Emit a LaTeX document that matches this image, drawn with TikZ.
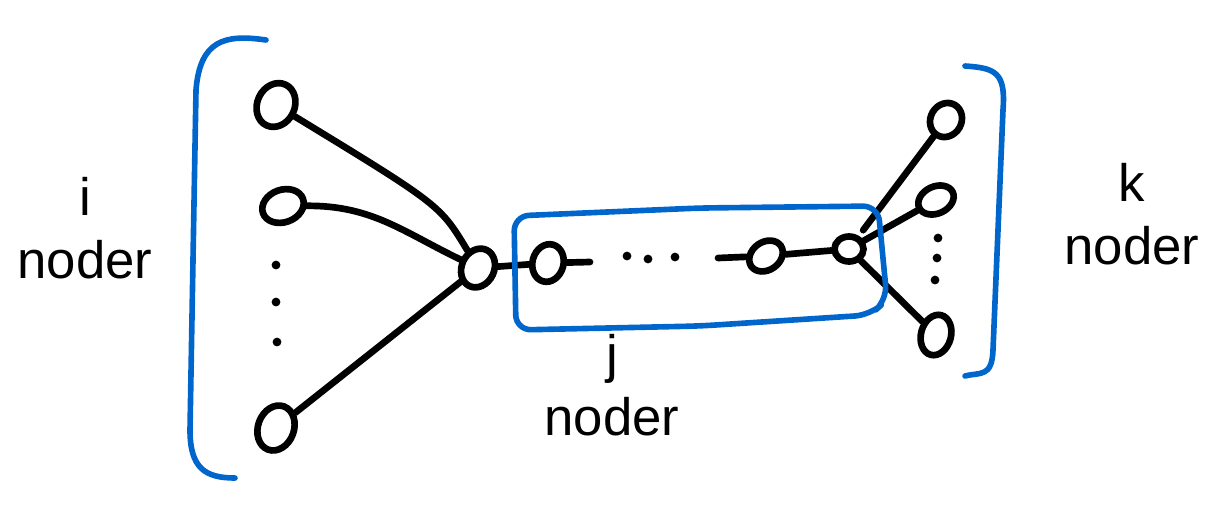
\documentclass[tikz,border=0pt]{standalone}
\usepackage{fontspec}
\setmainfont{Liberation Sans}
\usetikzlibrary{shapes.geometric}
\definecolor{penblue}{RGB}{0,102,204}
\newlength{\penwidth}
\setlength{\penwidth}{3.8pt}
\tikzset{
  vert/.style={draw, ellipse, inner sep=0pt, line width=\penwidth},
  dot/.style={fill, circle, inner sep=0pt, minimum size=5pt},
  edge/.style={line width=\penwidth, line cap=round},
  bracket/.style={penblue, line width=3.2pt, line cap=round, line join=round},
  lbl/.style={align=center, font=\fontsize{30}{36}\selectfont}
}

\begin{document}
\begin{tikzpicture}[x=0.02cm, y=-0.02cm]
    \useasboundingbox (0,0) rectangle (1231,505);
    %left group of i nodes
    \node[vert, minimum width=0.75cm, minimum height=0.9cm, rotate=-25] (l1) at (276,105) {};
    \node[vert, minimum width=0.85cm, minimum height=0.65cm, rotate=20] (l2) at (283,206) {};
    \node[vert, minimum width=0.72cm, minimum height=0.92cm, rotate=-20] (l3) at (276,428) {};
    \node[dot] (ld1) at (276,265) {};
    \node[dot] (ld2) at (276,302) {};
    \node[dot] (ld3) at (277,342) {};
    %hub and the chain of j nodes
    \node[vert, minimum width=0.65cm, minimum height=0.8cm, rotate=-25] (hub) at (478,268) {};
    \node[vert, minimum width=0.62cm, minimum height=0.76cm, rotate=-15] (j1) at (548,263) {};
    \node[vert, minimum width=0.72cm, minimum height=0.56cm, rotate=35] (j2) at (766,256) {};
    \node[vert, minimum width=0.58cm, minimum height=0.5cm] (j3) at (849,249) {};
    \coordinate (jend) at (590,262);
    \coordinate (jstart) at (718,258);
    \node[dot] (jd1) at (627,256) {};
    \node[dot] (jd2) at (648,259) {};
    \node[dot] (jd3) at (675,257) {};
    %right group of k nodes
    \node[vert, minimum width=0.62cm, minimum height=0.7cm, rotate=-30] (r1) at (946,120) {};
    \node[vert, minimum width=0.74cm, minimum height=0.54cm, rotate=25] (r2) at (936,200) {};
    \node[vert, minimum width=0.6cm, minimum height=0.82cm, rotate=-15] (r3) at (936,335) {};
    \node[dot] (rd1) at (938,238) {};
    \node[dot] (rd2) at (937,258) {};
    \node[dot] (rd3) at (935,280) {};
    %connectors
    \draw[edge] (l1) .. controls (440,205) .. (hub);
    \draw[edge] (l2) to[out=-5, in=160] (hub);
    \draw[edge] (l3) -- (hub);
    \draw[edge] (hub) -- (j1);
    \draw[edge] (j1) -- (jend);
    \draw[edge] (jstart) -- (j2);
    \draw[edge] (j2) -- (j3);
    \draw[edge, shorten <=4pt] (j3) -- (r1);
    \draw[edge] (j3) -- (r2);
    \draw[edge] (j3) -- (r3);
    %blue box round the j nodes
    \draw[bracket, rounded corners=0.3cm]
      (514,216) -- (700,208) -- (878,206) -- (887,300)
      -- (870,315) -- (700,326) -- (516,330) -- cycle;
    %blue brackets
    \draw[bracket] (266,40) .. controls (225,34) and (200,40) .. (196,90)
      -- (190,430) .. controls (190,468) and (205,478) .. (235,478);
    \draw[bracket] (965,66) .. controls (995,68) and (1006,72) .. (1003,110)
      -- (993,350) .. controls (992,378) and (980,372) .. (965,376);
    %labels
    \node[lbl] (ilbl) at (85,228) {i\\noder};
    \node[lbl] (jlbl) at (612,385) {j\\noder};
    \node[lbl] (klbl) at (1132,214) {k\\noder};
\end{tikzpicture}
\end{document}
